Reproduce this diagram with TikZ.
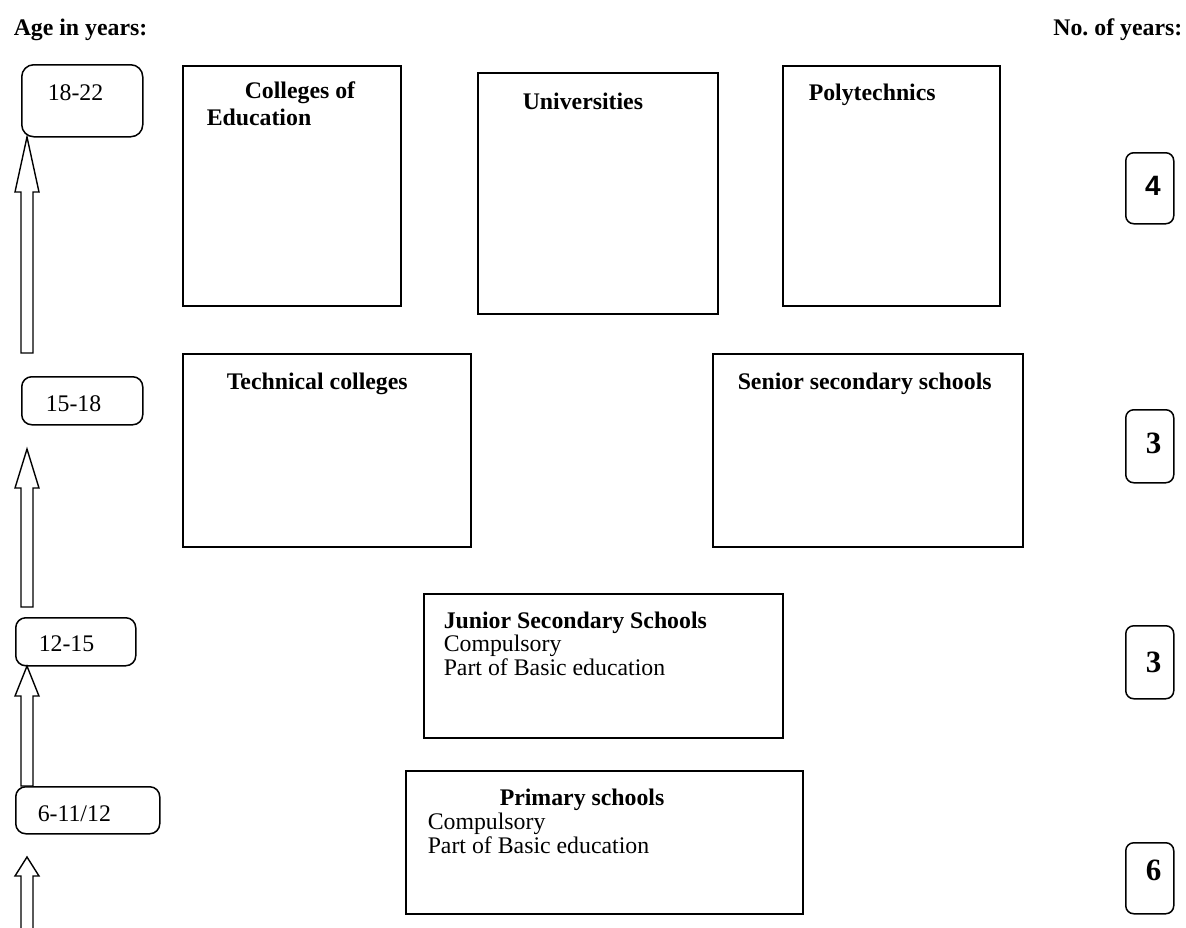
\documentclass[tikz,border=0pt]{standalone}
\usepackage{fontspec}
\setmainfont{Liberation Serif}
\newfontfamily\sansb{Liberation Sans}
\frenchspacing
\begin{document}
\begin{tikzpicture}[x=1pt,y=-1pt,
  line width=1.5pt,
  box/.style={draw,rectangle,inner sep=0pt,anchor=north west},
  agebox/.style={draw,rectangle,rounded corners=10pt,inner sep=0pt,anchor=north west},
  numbox/.style={draw,rectangle,rounded corners=8pt,inner sep=0pt,anchor=north west,minimum width=48pt,minimum height=72pt},
  txt/.style={anchor=base west,inner sep=0pt,font=\fontsize{23.8}{24}\selectfont},
  btxt/.style={txt,font=\fontsize{23.8}{24}\selectfont\bfseries},
  num/.style={inner sep=0pt,font=\fontsize{31}{31}\selectfont\bfseries},
  blockarrow/.style={draw,fill=white,line width=1.4pt,line join=miter}
]
\useasboundingbox (0,0) rectangle (1186,927);

% headers
\node[btxt] (hage) at (13,35) {Age in years:};
\node[btxt,anchor=base east] (hnum) at (1183,35) {No. of years:};

% age boxes
\node[agebox,rounded corners=12pt,minimum width=121pt,minimum height=72pt] (a1) at (21,64) {};
\node[txt] (a1t) at (47,100) {18-22};
\node[agebox,minimum width=121pt,minimum height=48pt] (a2) at (21,376) {};
\node[txt] (a2t) at (45,411) {15-18};
\node[agebox,minimum width=120pt,minimum height=48pt] (a3) at (15,617) {};
\node[txt] (a3t) at (38,651) {12-15};
\node[agebox,minimum width=144pt,minimum height=47pt] (a4) at (15,786) {};
\node[txt] (a4t) at (37,821) {6-11/12};

% block arrows
\draw[blockarrow] (21,353) -- (21,192) -- (15,192) -- (27,137) -- (39,192) -- (33,192) -- (33,353) -- cycle;
\draw[blockarrow] (21,607) -- (21,488) -- (15,488) -- (27,449) -- (39,488) -- (33,488) -- (33,607) -- cycle;
\draw[blockarrow] (21,786) -- (21,696) -- (15,696) -- (27,666) -- (39,696) -- (33,696) -- (33,786) -- cycle;
\draw[blockarrow] (21,935) -- (21,876) -- (15,876) -- (27,857) -- (39,876) -- (33,876) -- (33,935) -- cycle;

% institution boxes
\node[box,minimum width=218pt,minimum height=240pt] (coe) at (182,65) {};
\node[btxt] (coet1) at (244,98) {Colleges of};
\node[btxt] (coet2) at (206,125) {Education};

\node[box,minimum width=240pt,minimum height=241pt] (uni) at (477,72) {};
\node[btxt] (unit) at (522,109) {Universities};

\node[box,minimum width=217pt,minimum height=240pt] (poly) at (782,65) {};
\node[btxt] (polyt) at (808,100) {Polytechnics};

\node[box,minimum width=288pt,minimum height=193pt] (tech) at (182,353) {};
\node[btxt] (techt) at (226,389) {Technical colleges};

\node[box,minimum width=310pt,minimum height=193pt] (sss) at (712,353) {};
\node[btxt] (ssst) at (737,389) {Senior secondary schools};

\node[box,minimum width=359pt,minimum height=144pt] (jss) at (423,593) {};
\node[btxt] (jsst1) at (443,628) {Junior Secondary Schools};
\node[txt] (jsst2) at (443,651) {Compulsory};
\node[txt] (jsst3) at (443,675) {Part of Basic education};

\node[box,minimum width=397pt,minimum height=143pt] (pri) at (405,770) {};
\node[btxt] (prit1) at (499,805) {Primary schools};
\node[txt] (prit2) at (427,829) {Compulsory};
\node[txt] (prit3) at (427,853) {Part of Basic education};

% number boxes
\node[numbox,minimum height=71pt] (n1) at (1125,152) {};
\node[num,font=\fontsize{28}{28}\selectfont\sansb\bfseries] (n1t) at (1153,186) {4};
\node[numbox,minimum height=73pt] (n2) at (1125,409) {};
\node[num] (n2t) at (1153.5,443) {3};
\node[numbox,minimum height=73pt] (n3) at (1125,625) {};
\node[num] (n3t) at (1153.5,662) {3};
\node[numbox,minimum height=71pt] (n4) at (1125,842) {};
\node[num] (n4t) at (1153.5,870) {6};
\end{tikzpicture}
\end{document}
